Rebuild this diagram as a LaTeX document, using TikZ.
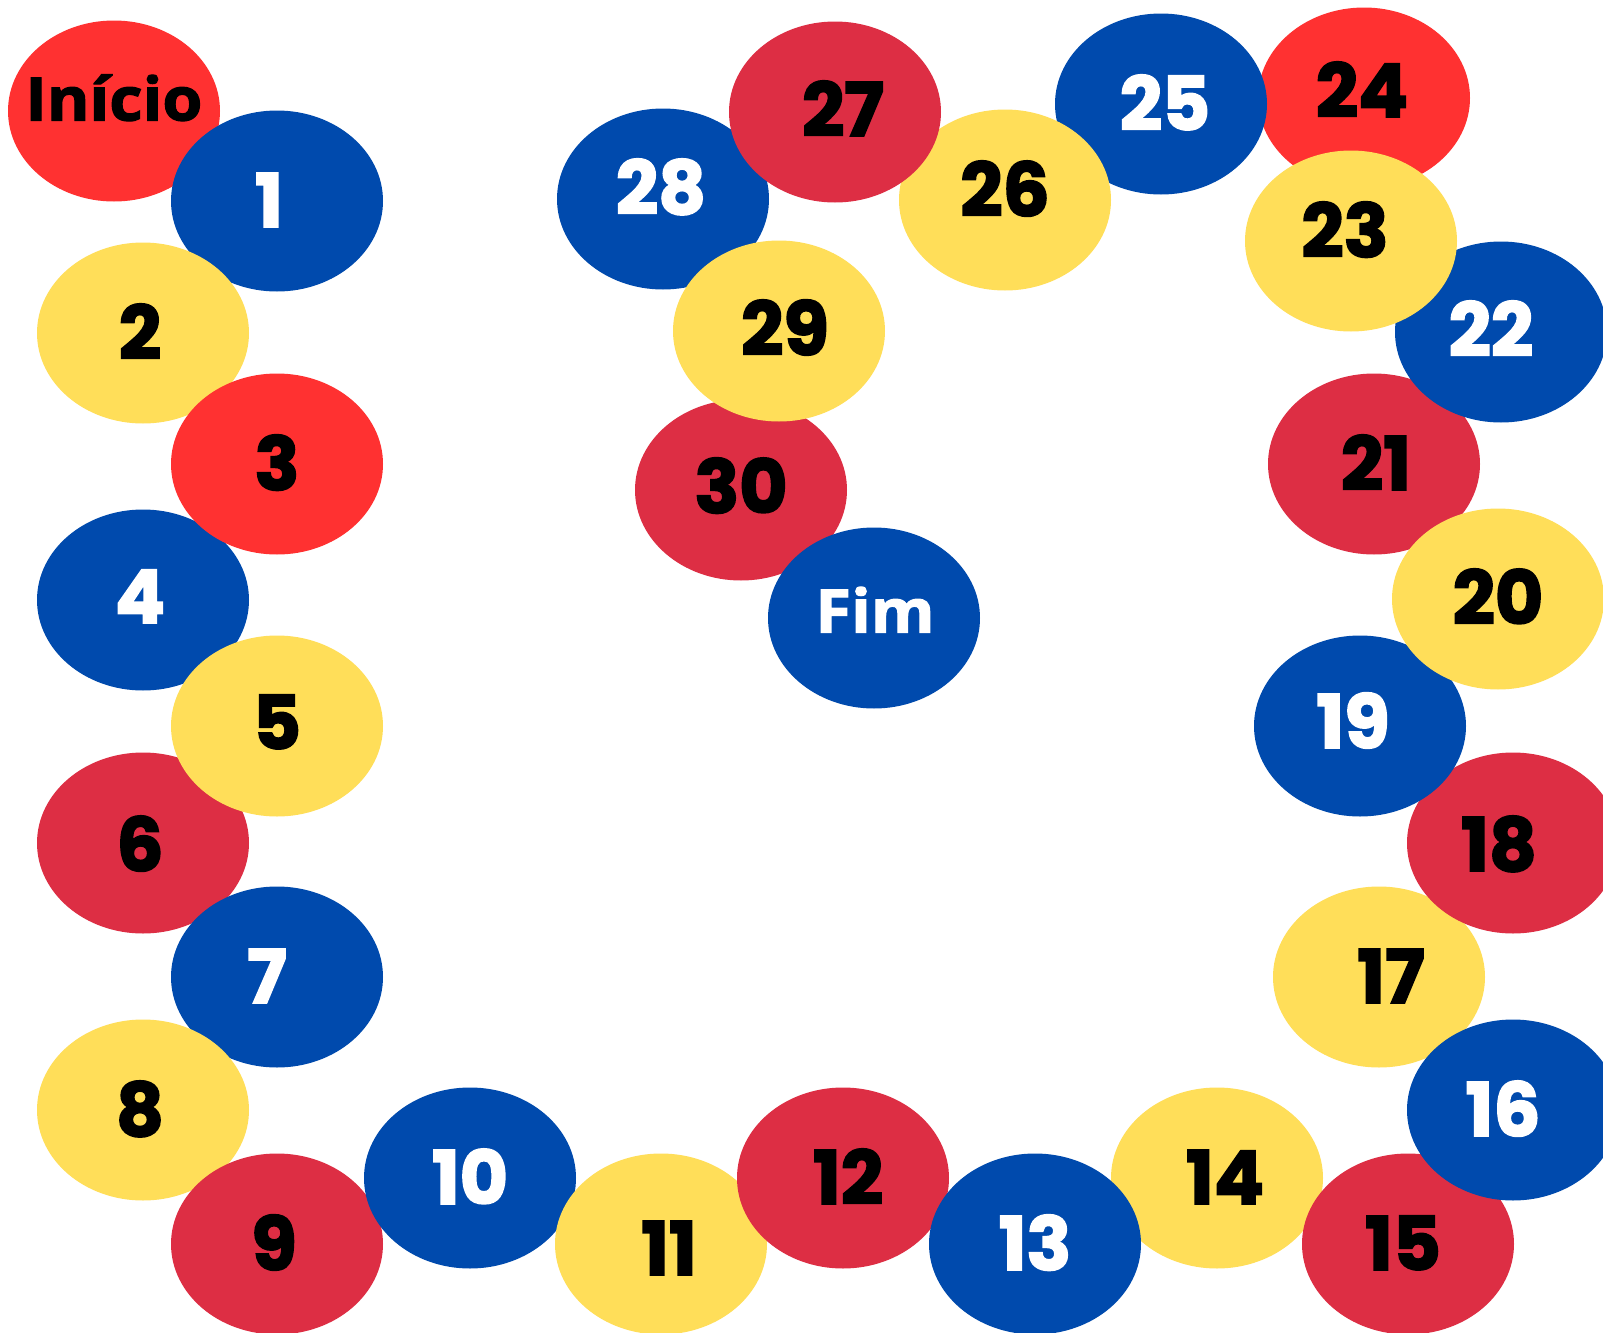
\documentclass[tikz,border=0pt]{standalone}
\usepackage{fontspec}
\newfontfamily\numfont{Poppins}[BoldFeatures={FakeBold=2.5}]
\newfontfamily\wordfont{Open Sans}[FakeStretch=1.08, BoldFeatures={FakeBold=2}]
\usetikzlibrary{shapes.geometric}
\definecolor{cblue}{HTML}{004AAD}
\definecolor{cyel}{HTML}{FFDE59}
\definecolor{cred}{HTML}{FF3131}
\definecolor{ccrim}{HTML}{DD2E44}
\begin{document}
\begin{tikzpicture}[x=0.5pt,y=-0.5pt,
  disc/.style={ellipse, minimum width=106pt, minimum height=90.5pt, inner sep=0pt, draw=none},
  lbl/.style={inner sep=0pt, text height=26pt, text depth=0pt, font=\fontsize{37}{37}\selectfont\numfont\bfseries},
  wrd/.style={inner sep=0pt, text height=21.5pt, text depth=0pt, font=\fontsize{30}{30}\selectfont\wordfont\bfseries}]
\fill[white] (0,0) rectangle (1603,1333);
\path[use as bounding box] (0,0) rectangle (1603,1333);
\foreach \n/\x/\y/\c/\tc/\t/\s/\dx/\dy in {
  0/114/111/cred/black/Início/wrd/0/-12,
  1/277/201/cblue/white/1/lbl/-8/0,
  2/143/333/cyel/black/2/lbl/-3/0,
  4/143/600/cblue/white/4/lbl/-3/-3,
  3/277/464/cred/black/3/lbl/0/0,
  6/143/843/ccrim/black/6/lbl/-3/2,
  5/277/726/cyel/black/5/lbl/0/-3,
  7/277/977/cblue/white/7/lbl/-10/0,
  8/143/1110/cyel/black/8/lbl/-3/0,
  9/277/1244/ccrim/black/9/lbl/-3/0,
  10/470/1178/cblue/white/10/lbl/0/0,
  11/661/1244/cyel/black/11/lbl/8/5,
  12/843/1178/ccrim/black/12/lbl/5/0,
  14/1217/1178/cyel/black/14/lbl/8/0,
  13/1035/1244/cblue/white/13/lbl/0/0,
  15/1408/1244/ccrim/black/15/lbl/-5/0,
  17/1379/977/cyel/black/17/lbl/12/0,
  16/1513/1110/cblue/white/16/lbl/-10/0,
  18/1513/843/ccrim/black/18/lbl/-14/2,
  19/1360/726/cblue/white/19/lbl/-7/-4,
  21/1374/464/ccrim/black/21/lbl/2/0,
  20/1498/599/cyel/black/20/lbl/0/-1,
  22/1501/332/cblue/white/22/lbl/-10/-2,
  24/1364/98/cred/black/24/lbl/-2/-7,
  23/1351/241/cyel/black/23/lbl/-6/-10,
  25/1161/104/cblue/white/25/lbl/4/0,
  26/1005/200/cyel/black/26/lbl/0/-10,
  28/663/199/cblue/white/28/lbl/-2/-11,
  27/835/112/ccrim/black/27/lbl/8/-2,
  30/741/490/ccrim/black/30/lbl/0/-3,
  29/779/331/cyel/black/29/lbl/6/-2,
  31/874/618/cblue/white/Fim/wrd/1/-7}{
  \node[disc, fill=\c] (n\n) at (\x,\y) {};
  \node[\s, text=\tc] (t\n) at ([shift={(\dx,\dy)}]n\n.center) {\t};
}
\end{tikzpicture}
\end{document}
